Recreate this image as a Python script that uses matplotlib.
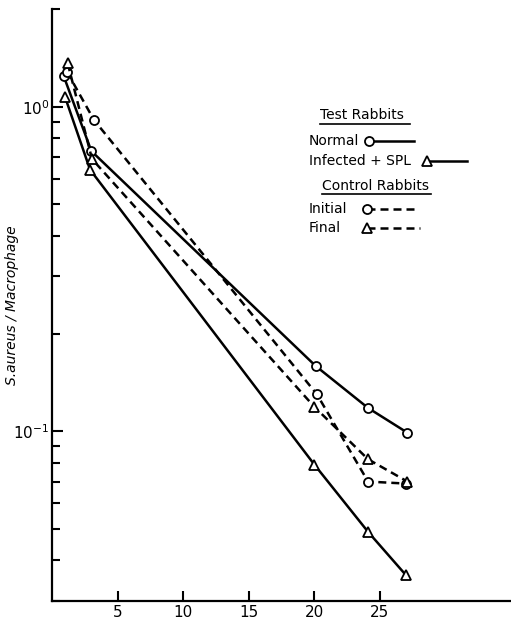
import matplotlib
matplotlib.use("Agg")
import matplotlib.pyplot as plt
from matplotlib.lines import Line2D
from matplotlib.ticker import LogLocator, NullFormatter, FixedLocator

# test rabbits
normal_x = [0.9, 3.0, 20.1, 24.1, 27.1]
normal_y = [1.24, 0.73, 0.159, 0.118, 0.099]
infected_x = [1.0, 2.9, 20.0, 24.1, 27.0]
infected_y = [1.07, 0.64, 0.079, 0.049, 0.036]

# control rabbits
initial_x = [1.15, 3.2, 20.2, 24.1, 27.0]
initial_y = [1.28, 0.91, 0.130, 0.070, 0.069]
final_x = [1.2, 3.05, 20.0, 24.1, 27.1]
final_y = [1.36, 0.69, 0.119, 0.082, 0.070]

x_ticks = [5, 10, 15, 20, 25]

W, H = 511, 619
fig = plt.figure(figsize=(W / 100, H / 100), dpi=100)
ax = fig.add_axes([52 / W, 1 - 601 / H, 1 - 52 / W, (601 - 9) / H])

LW = 1.8
DASH = (3.2, 2.0)
mk = dict(markersize=6.5, markerfacecolor="white", markeredgecolor="black",
          markeredgewidth=1.3, color="black", lw=LW)

ax.plot(normal_x, normal_y, marker="o", **mk)
ax.plot(infected_x, infected_y, marker="^", **mk)
ax.plot(initial_x, initial_y, marker="o", dashes=DASH, **mk)
ax.plot(final_x, final_y, marker="^", dashes=DASH, **mk)

ax.set_yscale("log")
ax.set_ylim(0.03, 2.0)
ax.set_xlim(0, 35)

ax.yaxis.set_major_locator(FixedLocator([0.1, 1.0]))
ax.yaxis.set_minor_locator(LogLocator(base=10, subs=range(2, 10), numticks=20))
ax.yaxis.set_minor_formatter(NullFormatter())
ax.set_xticks(x_ticks)
ax.set_xticklabels([str(t) for t in x_ticks])

for s in ("top", "right"):
    ax.spines[s].set_visible(False)
for s in ("left", "bottom"):
    ax.spines[s].set_linewidth(1.6)

ax.tick_params(axis="y", which="major", direction="in", length=8, width=1.5,
               labelsize=11, pad=2)
ax.tick_params(axis="y", which="minor", direction="in", length=6, width=1.5)
ax.tick_params(axis="x", which="major", direction="in", length=7, width=1.5,
               labelsize=11, pad=3)

ax.set_ylabel("S.aureus / Macrophage", style="italic", fontsize=10)
ax.yaxis.set_label_coords(-33 / 459, 0.5)


def px(x, y):
    return x / W, 1 - y / H


def fig_text(x, y, s, **kw):
    fig.text(*px(x, y), s, fontsize=10, va="center", ha="left", **kw)


def fig_line(x0, x1, y, marker=None, dashed=False, lw=LW):
    (a, b), (c, d) = px(x0, y), px(x1, y)
    ln = Line2D([a, c], [b, d], transform=fig.transFigure, color="black", lw=lw)
    if dashed:
        ln.set_dashes(DASH)
    fig.add_artist(ln)
    if marker:
        m = Line2D([a], [b], transform=fig.transFigure, marker=marker, ls="none",
                   markersize=6.5, markerfacecolor="white",
                   markeredgecolor="black", markeredgewidth=1.3)
        fig.add_artist(m)


# legend
fig_text(320, 115, "Test Rabbits")
fig_line(320, 410, 124, lw=1.2)
fig_text(309, 141, "Normal")
fig_line(369, 414, 141, marker="o")
fig_text(309, 161, "Infected + SPL")
fig_line(427, 467, 161, marker="^")
fig_text(322, 186, "Control Rabbits")
fig_line(322, 431, 194, lw=1.2)
fig_text(309, 209, "Initial")
fig_line(367, 418, 209, marker="o", dashed=True)
fig_text(309, 228, "Final")
fig_line(367, 420, 228, marker="^", dashed=True)

fig.savefig("out.png", dpi=100)
